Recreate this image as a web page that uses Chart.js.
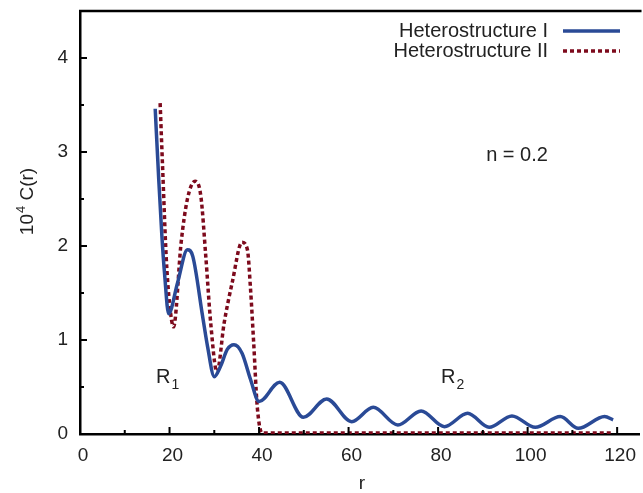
<!DOCTYPE html>
<html>
<head>
<meta charset="utf-8">
<script src="https://cdn.jsdelivr.net/npm/chart.js@4.4.1/dist/chart.umd.min.js"></script>
<style>
  html, body { margin: 0; padding: 0; background: #fff; }
  #wrap { width: 643px; height: 493px; }
</style>
</head>
<body>
<div id="wrap"><canvas id="chart" width="643" height="493"></canvas></div>
<script>
// valeurs
const rI  = [16.8, 17.6, 18.3, 18.9, 19.8, 21.8, 24.0, 25.2, 27.4, 28.5, 30.0, 31.4, 32.9, 34.4, 36.2, 38.1, 40.0,
             44.6, 49.9, 55.1, 60.7, 65.5, 71.0, 76.2, 81.4, 86.6, 91.4, 96.5, 101.7, 107.3, 111.3, 117.2, 119.1];
const cI  = [3.46, 2.7, 2.1, 1.7, 1.28, 1.61, 1.96, 1.89, 1.25, 0.93, 0.61, 0.72, 0.9, 0.95, 0.86, 0.58, 0.345,
             0.55, 0.178, 0.373, 0.131, 0.284, 0.096, 0.245, 0.078, 0.22, 0.071, 0.192, 0.071, 0.185, 0.06, 0.185, 0.15];
const rII = [17.9, 18.5, 19.25, 20.0, 20.9, 22.6, 24.0, 25.7, 27.0, 28.1, 29.2, 30.6, 32.2, 34.0, 36.2, 37.4, 38.1,
             38.8, 39.6, 40.7, 80, 119];
const cII = [3.52, 2.78, 1.89, 1.39, 1.14, 2.04, 2.5, 2.69, 2.53, 1.89, 1.18, 0.66, 1.18, 1.61, 2.04, 1.96, 1.54,
             0.97, 0.29, 0.01, 0.01, 0.01];
const xTicks = [0, 20, 40, 60, 80, 100, 120];
const yTicks = [0, 1, 2, 3, 4];
const xMinor = [10, 30, 50, 70, 90, 110];
const yMinor = [0.5, 1.5, 2.5, 3.5];
const labels = ['Heterostructure I', 'Heterostructure II'];

const FONT = 'Liberation Sans, Arial, Helvetica, sans-serif';
const BLUE = '#2a4a96';
const RED = '#7d0a1c';

const toPts = (xs, ys) => xs.map((x, i) => ({ x: x, y: ys[i] }));

// ticks vers l'intérieur, cadre du haut, légende et textes
const decor = {
    id: 'decor',
    afterDraw(chart) {
        const { ctx, chartArea: a, scales: { x, y } } = chart;
        ctx.save();
        ctx.strokeStyle = '#000';
        ctx.lineWidth = 2.5;
        ctx.beginPath();
        ctx.moveTo(a.left - 1, a.top);
        ctx.lineTo(a.right + 2, a.top);
        ctx.stroke();

        ctx.lineWidth = 2;
        ctx.beginPath();
        xTicks.slice(1).forEach(v => { const px = x.getPixelForValue(v); ctx.moveTo(px, a.bottom); ctx.lineTo(px, a.bottom - 7); });
        xMinor.forEach(v => { const px = x.getPixelForValue(v); ctx.moveTo(px, a.bottom); ctx.lineTo(px, a.bottom - 4); });
        yTicks.slice(1).forEach(v => { const py = y.getPixelForValue(v); ctx.moveTo(a.left, py); ctx.lineTo(a.left + 7, py); });
        yMinor.forEach(v => { const py = y.getPixelForValue(v); ctx.moveTo(a.left, py); ctx.lineTo(a.left + 4, py); });
        ctx.stroke();

        // légende
        ctx.font = '20px ' + FONT;
        ctx.fillStyle = '#222';
        ctx.textAlign = 'right';
        ctx.textBaseline = 'middle';
        chart.data.datasets.forEach((ds, i) => {
            const ly = 31 + i * 20;
            ctx.fillText(ds.label, 548, ly);
            ctx.strokeStyle = ds.borderColor;
            ctx.lineWidth = 3.5;
            ctx.setLineDash(ds.borderDash || []);
            ctx.beginPath();
            ctx.moveTo(563, ly);
            ctx.lineTo(620, ly);
            ctx.stroke();
        });
        ctx.setLineDash([]);

        ctx.textAlign = 'center';
        ctx.fillText('n = 0.2', 517, 155);

        // R1, R2
        const sub = (txt, s, px, py) => {
            ctx.textAlign = 'left';
            ctx.textBaseline = 'alphabetic';
            ctx.font = '20px ' + FONT;
            ctx.fillText(txt, px, py);
            const w = ctx.measureText(txt).width;
            ctx.font = '14px ' + FONT;
            ctx.fillText(s, px + w + 1, py + 6);
        };
        sub('R', '1', 156, 383);
        sub('R', '2', 441, 383);

        // titre de l'axe x
        ctx.font = '19px ' + FONT;
        ctx.textAlign = 'center';
        ctx.textBaseline = 'middle';
        ctx.fillText('r', 362, 484);

        // titre de l'axe y : 10^4 C(r)
        ctx.translate(28, 202);
        ctx.rotate(-Math.PI / 2);
        ctx.textAlign = 'left';
        ctx.textBaseline = 'middle';
        ctx.font = '19px ' + FONT;
        const w1 = ctx.measureText('10').width;
        const w3 = ctx.measureText(' C(r)').width;
        ctx.font = '13px ' + FONT;
        const w2 = ctx.measureText('4').width;
        let sx = -(w1 + w2 + w3) / 2;
        ctx.font = '19px ' + FONT;
        ctx.fillText('10', sx, 0);
        ctx.font = '13px ' + FONT;
        ctx.fillText('4', sx + w1 + 1, -7);
        ctx.font = '19px ' + FONT;
        ctx.fillText(' C(r)', sx + w1 + w2 + 1, 0);
        ctx.restore();
    }
};

const ctx = document.getElementById('chart').getContext('2d');
const chart = new Chart(ctx, {
    type: 'line',
    data: {
        datasets: [{
            label: labels[0],
            data: toPts(rI, cI),
            borderColor: BLUE,
            borderWidth: 3.5,
            pointRadius: 0,
            cubicInterpolationMode: 'monotone',
            fill: false
        }, {
            label: labels[1],
            data: toPts(rII, cII),
            borderColor: RED,
            borderWidth: 3.5,
            borderDash: [4, 3],
            pointRadius: 0,
            cubicInterpolationMode: 'monotone',
            fill: false
        }]
    },
    options: {
        responsive: false,
        animation: false,
        layout: { padding: 0 },
        plugins: {
            legend: { display: false },
            tooltip: { enabled: false }
        },
        scales: {
            x: {
                type: 'linear',
                min: 0,
                max: 125,
                afterFit: s => { s.height = 59; },
                afterBuildTicks: s => { s.ticks = xTicks.map(v => ({ value: v })); },
                grid: { display: false, drawTicks: false },
                border: { display: true, color: '#000', width: 2.5 },
                ticks: { color: '#222', font: { size: 19, family: FONT }, padding: 10, labelOffset: 3, maxRotation: 0, autoSkip: false }
            },
            y: {
                type: 'linear',
                min: 0,
                max: 4.5,
                afterFit: s => { s.width = 80; s.paddingTop = 11; s.paddingBottom = 0; },
                afterBuildTicks: s => { s.ticks = yTicks.map(v => ({ value: v })); },
                grid: { display: false, drawTicks: false },
                border: { display: true, color: '#000', width: 2.5 },
                ticks: { color: '#222', font: { size: 19, family: FONT }, padding: 12 }
            }
        }
    },
    plugins: [decor]
});
</script>
</body>
</html>
